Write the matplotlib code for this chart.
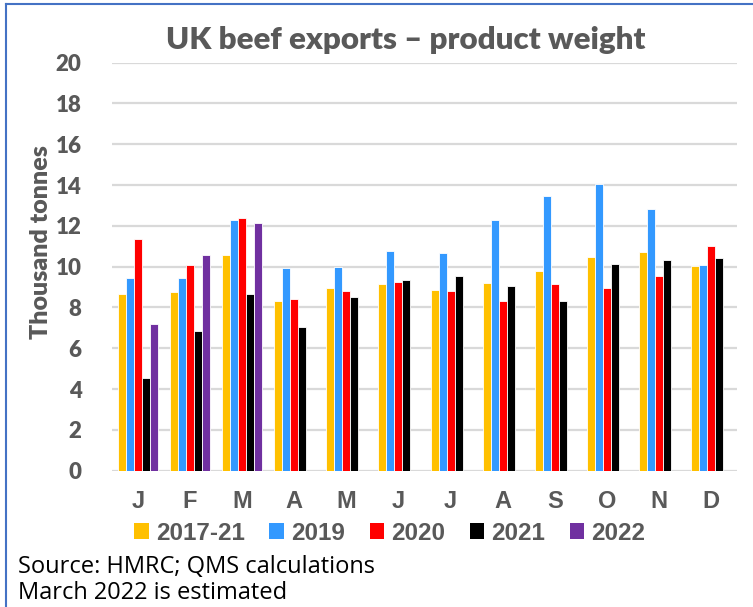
import numpy as np
import matplotlib.pyplot as plt
from matplotlib.patches import Patch
from matplotlib.lines import Line2D

months = ['J', 'F', 'M', 'A', 'M', 'J', 'J', 'A', 'S', 'O', 'N', 'D']
series_names = ['2017-21', '2019', '2020', '2021', '2022']
avg_2017_21 = [8.64, 8.74, 10.56, 8.31, 8.97, 9.13, 8.86, 9.22, 9.80, 10.47, 10.74, 10.05]
y2019 = [9.43, 9.43, 12.29, 9.92, 9.97, 10.77, 10.69, 12.30, 13.45, 14.03, 12.83, 10.08]
y2020 = [11.34, 10.08, 12.37, 8.40, 8.83, 9.25, 8.82, 8.30, 9.13, 8.97, 9.54, 11.00]
y2021 = [4.55, 6.84, 8.64, 7.05, 8.50, 9.35, 9.56, 9.05, 8.30, 10.11, 10.31, 10.44]
y2022 = [7.17, 10.56, 12.13] + [np.nan] * 9
colors = ['#FFC000', '#3399FF', '#FF0000', '#000000', '#7030A0']

grey = '#595959'
fig = plt.figure(figsize=(7.53, 6.07), dpi=100)
ax = fig.add_axes([112 / 753, 136.3 / 607, 625 / 753, 408 / 607])

x = np.arange(len(months))
w = 8 / 52
for i, (vals, c) in enumerate(zip([avg_2017_21, y2019, y2020, y2021, y2022], colors)):
    ax.bar(x + (i - 2) * w, vals, width=w, color=c, edgecolor='white', linewidth=0.6, zorder=3)

ax.set_xlim(-0.5, 11.5)
ax.set_ylim(0, 20)
ax.set_yticks(range(0, 21, 2))
ax.yaxis.grid(True, color='#D9D9D9', linewidth=1.6, zorder=0)
ax.set_axisbelow(True)
for s in ax.spines.values():
    s.set_visible(False)
ax.tick_params(length=0)
ax.tick_params(axis='y', pad=22)
ax.tick_params(axis='x', pad=14)
ax.set_xticks(x)
ax.set_xticklabels(months, fontsize=17, fontweight='bold', color=grey, family='Liberation Sans')
for lab in ax.get_yticklabels():
    lab.set_fontsize(16)
    lab.set_fontweight('heavy')
    lab.set_color(grey)
    lab.set_family('Lato')

# y label placed by hand (it sits a little above the axis middle)
fig.text(41 / 753, 1 - 242 / 607, 'Thousand tonnes', rotation=90, ha='center', va='center',
         fontsize=18, fontweight='heavy', color=grey, family='Lato')

fig.text(406 / 753, 1 - 40 / 607, 'UK beef exports \u2013 product weight', ha='center', va='center',
         fontsize=22.5, fontweight='heavy', color=grey, family='Lato')

handles = [Patch(facecolor=c, edgecolor='none') for c in colors]
leg = fig.legend(handles, series_names, loc='center', bbox_to_anchor=(390 / 753, 1 - 533 / 607),
                 ncol=5, frameon=False, handlelength=0.6, handleheight=0.6, handletextpad=0.3,
                 columnspacing=1.0, borderaxespad=0,
                 prop={'family': 'Liberation Sans', 'weight': 'bold', 'size': 17.5})
for t in leg.get_texts():
    t.set_color(grey)

fig.text(18 / 753, 1 - 573 / 607, 'Source: HMRC; QMS calculations', ha='left', va='baseline',
         fontsize=17, color='black', family='Open Sans')
fig.text(18 / 753, 1 - 599 / 607, 'March 2022 is estimated', ha='left', va='baseline',
         fontsize=17, color='black', family='Open Sans')

# outer frame (left and top edges visible)
fig.add_artist(Line2D([6 / 753, 6 / 753], [0, 1 - 4 / 607], color='#4472C4', linewidth=1.5))
fig.add_artist(Line2D([6 / 753, 1], [1 - 4 / 607, 1 - 4 / 607], color='#4472C4', linewidth=1.5))

fig.savefig('out.png', dpi=100)
